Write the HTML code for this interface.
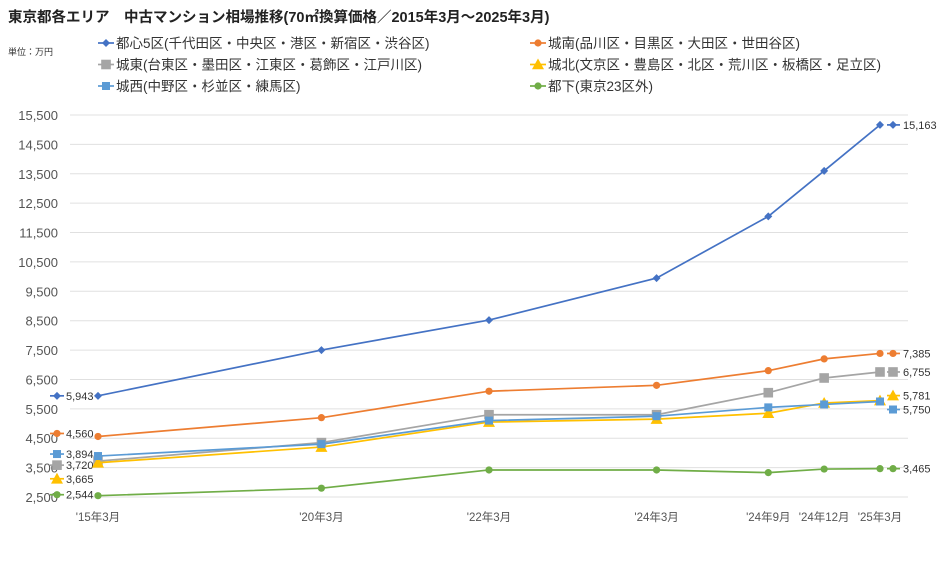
<!DOCTYPE html>
<html><head><meta charset="utf-8"><style>
body{margin:0;background:#fff;font-family:"Liberation Sans","Noto Sans CJK JP",sans-serif}
</style></head><body>
<svg id="chart" width="940" height="560" xmlns="http://www.w3.org/2000/svg" style="font-family:'Liberation Sans','Noto Sans CJK JP',sans-serif">
<rect width="940" height="560" fill="#fff"/>
<text x="8" y="22" font-size="14.5" font-weight="bold" fill="#222">東京都各エリア　中古マンション相場推移(70㎡換算価格／2015年3月～2025年3月)</text>
<text x="8" y="55" font-size="9" fill="#333">単位：万円</text>
<g id="grid"></g><g id="series"></g><g id="legend"></g>
</svg>
<script>
const categories=["'15年3月","'20年3月","'22年3月","'24年3月","'24年9月","'24年12月","'25年3月"];
const catPos=[0,4,7,10,12,13,14];
const names=["都心5区(千代田区・中央区・港区・新宿区・渋谷区)","城南(品川区・目黒区・大田区・世田谷区)","城東(台東区・墨田区・江東区・葛飾区・江戸川区)","城北(文京区・豊島区・北区・荒川区・板橋区・足立区)","城西(中野区・杉並区・練馬区)","都下(東京23区外)"];
const toshin=[5943,7500,8520,9950,12050,13600,15163];
const jonan=[4560,5200,6100,6300,6800,7200,7385];
const joto=[3720,4350,5300,5300,6050,6550,6755];
const johoku=[3665,4200,5050,5150,5350,5700,5781];
const josai=[3894,4300,5100,5250,5550,5650,5750];
const toka=[2544,2800,3420,3420,3330,3450,3465];
const yTicks=[2500,3500,4500,5500,6500,7500,8500,9500,10500,11500,12500,13500,14500,15500];
const seriesData=[toshin,jonan,joto,johoku,josai,toka];
const colors=["#4472C4","#ED7D31","#A5A5A5","#FFC000","#5B9BD5","#70AD47"];
const markers=["diamond","circle","square","triangle","square","circle"];
const keys=["toshin","jonan","joto","johoku","josai","toka"];
const NS="http://www.w3.org/2000/svg";
const x0=98,x1=880,yB=497,yT=115;
const xs=i=>x0+(x1-x0)*catPos[i]/catPos[catPos.length-1];
const ys=v=>yB-(v-2500)*(yB-yT)/13000;
function mk(tag,at,parent){const e=document.createElementNS(NS,tag);for(const k in at)e.setAttribute(k,at[k]);parent.appendChild(e);return e;}
const grid=document.getElementById('grid'),sg=document.getElementById('series'),lg=document.getElementById('legend');
yTicks.forEach(t=>{
 const l=mk('line',{x1:70,x2:908,y1:ys(t),y2:ys(t),stroke:'#e0e0e0','stroke-width':1},grid);
 
 
 const tx=mk('text',{x:58,y:ys(t)+5,'text-anchor':'end','font-size':13,fill:'#555'},grid);
 tx.textContent=t.toLocaleString('en-US');
 
 
});
categories.forEach((c,i)=>{
 const tx=mk('text',{x:xs(i),y:521,'text-anchor':'middle','font-size':11.5,fill:'#555'},grid);
 tx.textContent=c;
 
 
});
function marker(type,x,y,col,s,parent){
 let e;
 if(type==='diamond')e=mk('polygon',{points:`${x},${y-s} ${x+s},${y} ${x},${y+s} ${x-s},${y}`,fill:col},parent);
 else if(type==='circle')e=mk('circle',{cx:x,cy:y,r:s*0.8,fill:col},parent);
 else if(type==='square')e=mk('rect',{x:x-s*0.8,y:y-s*0.8,width:s*1.6,height:s*1.6,fill:col},parent);
 else e=mk('polygon',{points:`${x},${y-s} ${x+s},${y+s*0.8} ${x-s},${y+s*0.8}`,fill:col},parent);
 return e;
}
const sizes=[4,4.5,6,6,5,4.5];
const leftOff=[0,-3,4,16,-2,-1];
const rightOff=[0,0,0,-5,8,0];
seriesData.forEach((d,si)=>{
 const g=mk('g',{},sg);
 
 
 const pl=mk('polyline',{points:d.map((v,i)=>xs(i)+','+ys(v)).join(' '),fill:'none',stroke:colors[si],'stroke-width':1.7},g);
 
 
 d.forEach((v,i)=>{
  const m=marker(markers[si],xs(i),ys(v),colors[si],sizes[si],g);
  
  
 });
 const ly=ys(d[0])+leftOff[si];
 mk('line',{x1:50,x2:64,y1:ly,y2:ly,stroke:colors[si],'stroke-width':1.7},g);
 marker(markers[si],57,ly,colors[si],sizes[si],g);
 const t1=mk('text',{x:66,y:ly+4,'font-size':11,fill:'#333'},g);
 t1.textContent=d[0].toLocaleString('en-US');
 
 
 const n=d.length-1,ry=ys(d[n])+rightOff[si];
 mk('line',{x1:887,x2:900,y1:ry,y2:ry,stroke:colors[si],'stroke-width':1.7},g);
 marker(markers[si],893,ry,colors[si],sizes[si],g);
 const t2=mk('text',{x:903,y:ry+4,'font-size':11,fill:'#333'},g);
 t2.textContent=d[n].toLocaleString('en-US');
 
 
 const lx=si%2===0?98:530, lyy=43+Math.floor(si/2)*21.5;
 const lgi=mk('g',{},lg);
 
 
 mk('line',{x1:lx,x2:lx+16,y1:lyy,y2:lyy,stroke:colors[si],'stroke-width':1.7},lgi);
 marker(markers[si],lx+8,lyy,colors[si],sizes[si],lgi);
 const lt=mk('text',{x:lx+18,y:lyy+5,'font-size':13.5,fill:'#333'},lgi);
 lt.textContent=names[si];
});
</script>
</body></html>
